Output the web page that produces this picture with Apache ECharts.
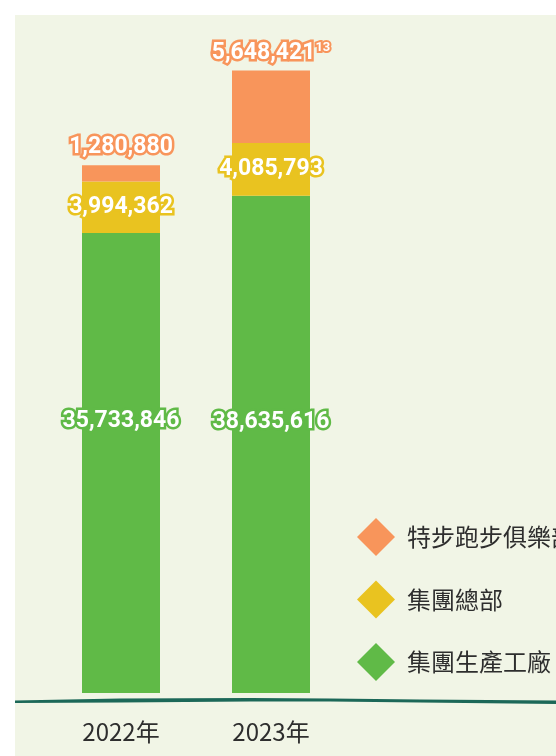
<!DOCTYPE html>
<html>
<head>
<meta charset="utf-8">
<script src="https://cdn.jsdelivr.net/npm/echarts@6/dist/echarts.min.js"></script>
<style>
  html, body { margin: 0; padding: 0; background: #ffffff; }
  #chart { width: 556px; height: 756px; }
</style>
</head>
<body>
<div id="chart"></div>
<script>
// Years on the x axis
var years = ['2022年', '2023年'];

// Series names (legend order, top to bottom)
var seriesNames = ['特步跑步俱樂部', '集團總部', '集團生產工廠'];

// Values per year
var factoryValues = [35733846, 38635616];
var headquartersValues = [3994362, 4085793];
var runningClubValues = [1280880, 5648421];

// Footnote markers attached to the running-club labels
var clubFootnotes = ['', '13'];

var COLORS = {
  club: '#F8955B',
  hq: '#E9C320',
  factory: '#60BA47'
};

var numFont = 'Roboto, "Noto Sans", sans-serif';
var cjkFont = '"Noto Sans CJK TC", "Noto Sans", sans-serif';

function fmt(v) {
  return v.toLocaleString('en-US');
}

function labelStyle(color) {
  return {
    show: true,
    color: '#ffffff',
    fontFamily: numFont,
    fontWeight: 'bold',
    fontSize: 23,
    textBorderColor: color,
    textBorderWidth: 5
  };
}

var chart = echarts.init(document.getElementById('chart'), null, { renderer: 'canvas' });

// Factory labels sit at a common height inside the tall green bars
var factoryData = factoryValues.map(function (v, i) {
  return {
    value: v,
    label: { position: ['50%', i === 0 ? '41%' : '45.5%'], align: 'center', verticalAlign: 'middle' }
  };
});

var option = {
  backgroundColor: '#ffffff',
  graphic: [
    {
      type: 'rect',
      z: -10,
      shape: { x: 15, y: 15, width: 541, height: 741 },
      style: { fill: '#F1F5E6' }
    },
    {
      // brush-stroke baseline
      type: 'polygon',
      z: 10,
      shape: {
        points: [[15, 700.5], [120, 698.5], [250, 698], [330, 698.5], [420, 699.5], [556, 700.5],
                 [556, 704], [420, 702.5], [330, 701.5], [250, 701.5], [120, 702.5], [15, 703]]
      },
      style: { fill: '#1C6858' }
    }
  ],
  legend: {
    orient: 'vertical',
    left: 352,
    top: 513,
    itemWidth: 38,
    itemHeight: 38,
    itemGap: 24.5,
    icon: 'diamond',
    data: seriesNames,
    textStyle: {
      fontFamily: cjkFont,
      fontSize: 24,
      color: '#2e2e2e',
      padding: [0, 0, 0, 7]
    }
  },
  grid: {
    left: 46,
    width: 300,
    top: 70,
    bottom: 63
  },
  xAxis: {
    type: 'category',
    data: years,
    axisLine: { show: false },
    axisTick: { show: false },
    axisLabel: {
      margin: 27,
      fontFamily: cjkFont,
      fontSize: 24,
      color: '#2e2e2e'
    }
  },
  yAxis: {
    type: 'value',
    min: 0,
    max: 48400000,
    show: false,
    splitLine: { show: false }
  },
  series: [
    {
      name: seriesNames[2],
      type: 'bar',
      stack: 'total',
      barWidth: 78,
      itemStyle: { color: COLORS.factory },
      data: factoryData,
      label: Object.assign(labelStyle(COLORS.factory), {
        formatter: function (p) { return fmt(p.value); }
      })
    },
    {
      name: seriesNames[1],
      type: 'bar',
      stack: 'total',
      barWidth: 78,
      itemStyle: { color: COLORS.hq },
      data: headquartersValues,
      label: Object.assign(labelStyle(COLORS.hq), {
        position: 'inside',
        formatter: function (p) { return fmt(p.value); }
      })
    },
    {
      name: seriesNames[0],
      type: 'bar',
      stack: 'total',
      barWidth: 78,
      itemStyle: { color: COLORS.club },
      data: runningClubValues,
      label: Object.assign(labelStyle(COLORS.club), {
        position: 'top',
        distance: 6,
        formatter: function (p) {
          var note = clubFootnotes[p.dataIndex];
          return '{v|' + fmt(p.value) + '}' + (note ? '{s|' + note + '}' : '');
        },
        rich: {
          v: {
            color: '#ffffff',
            fontFamily: numFont,
            fontWeight: 'bold',
            fontSize: 23,
            textBorderColor: COLORS.club,
            textBorderWidth: 5
          },
          s: {
            color: '#ffffff',
            fontFamily: numFont,
            fontWeight: 'bold',
            fontSize: 13,
            verticalAlign: 'top',
            padding: [0, 0, 10, 0],
            textBorderColor: COLORS.club,
            textBorderWidth: 4
          }
        }
      })
    }
  ]
};

chart.setOption(option);
</script>
</body>
</html>
